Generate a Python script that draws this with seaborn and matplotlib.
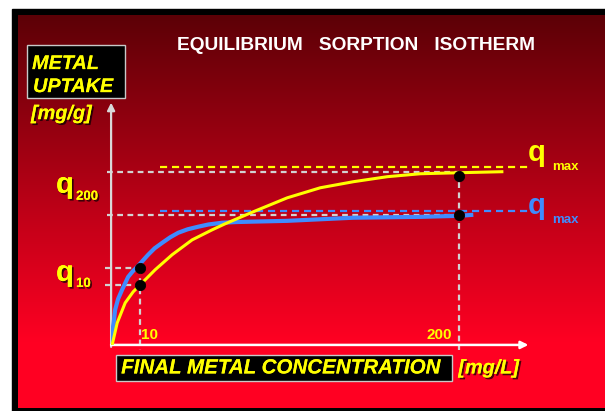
import numpy as np
import matplotlib
matplotlib.use("Agg")
import matplotlib.pyplot as plt
import matplotlib.patheffects as pe
from matplotlib.patches import Rectangle
import seaborn as sns

# ---------------- data (schematic units) ----------------
blue_x = [0.0, 0.6, 1.5, 2.3, 4.0, 6.3, 9.8, 12.5, 15.5, 18.5, 21.3, 25.0, 29.4, 34.0,
          38.6, 44.0, 50.1, 56.0, 63.9, 72.0, 80.0, 101.3, 139.3, 177.8, 200.3, 208.3]
blue_y = [0.0, 7.0, 13.0, 20.2, 26.5, 31.8, 39.3, 42.6, 45.6, 49.0, 52.1, 55.8, 59.0, 62.2,
          64.8, 66.8, 68.3, 69.6, 70.6, 71.0, 71.2, 71.7, 73.5, 74.0, 74.6, 75.2]
yellow_x = [0.6, 3.5, 8.1, 12.7, 16.7, 25.3, 35.1, 46.6, 58.1, 65.6, 81.7, 101.3,
            120.3, 139.3, 158.8, 177.8, 200.3, 225.6]
yellow_y = [0.0, 12.7, 24.3, 30.7, 34.7, 43.4, 52.1, 60.7, 66.5, 70.0, 76.9, 85.0,
            90.8, 94.3, 97.2, 98.9, 99.5, 100.1]

# marked points (concentration position, uptake)
mark_x = [16.7, 16.7, 200.3, 200.3]
mark_y = [44.5, 34.7, 97.8, 75.2]
mark_labels = ["10", "200"]          # concentration labels at the two marks
q_labels = ["200", "10"]             # subscripts on the y side
qmax_yellow = 103.0
qmax_blue = 77.5
q200_level = 100.1
q200_blue_level = 75.2
q10_levels = [44.5, 34.7]

XMAX, YMAX = 240.0, 140.0

W, H = 605, 411
fig = plt.figure(figsize=((W + 0.5) / 100, (H + 0.5) / 100), dpi=100)
sns.set_style("white")
plt.rcParams['font.family'] = ['Liberation Sans', 'DejaVu Sans']

# ---------------- background (slide) ----------------
bg = fig.add_axes([0, 0, 1, 1], zorder=0)
bg.set_xlim(0, W)
bg.set_ylim(H, 0)
bg.axis("off")
bg.add_patch(Rectangle((0, 0), W + 5, H + 5, color="white", zorder=0))
bg.add_patch(Rectangle((12, 9), W + 5, H + 5, color="black", zorder=0.5))
top = np.array([92, 0, 6]) / 255
bot = np.array([255, 0, 34]) / 255
y0, y1 = 15, 408
for yy in range(y0, y1):
    tt = min(1.0, (yy - y0) / (y1 - y0) * 1.2)
    bg.add_patch(Rectangle((18, yy), W + 5 - 18, 1.05, facecolor=top * (1 - tt) + bot * tt,
                           edgecolor="none", antialiased=False, zorder=1))

shadow = [pe.withSimplePatchShadow(offset=(1.3, -1.3), shadow_rgbFace="black", alpha=0.7),
          pe.Normal()]
YEL = "#ffff00"
BLUE = "#3f8cff"
GREY = "#d2d2d2"

# title
bg.text(356, 45, "EQUILIBRIUM   SORPTION   ISOTHERM", color="white", fontsize=13.8,
        fontweight="bold", ha="center", va="center", zorder=3)

# y label box
bg.add_patch(Rectangle((27, 45), 98, 53, facecolor="black", edgecolor="#c8c8c8", lw=1, zorder=2))
tkw = dict(color=YEL, fontweight="bold", fontstyle="italic", ha="left", va="center",
           path_effects=shadow, zorder=3)
bg.text(32, 64, "METAL", fontsize=14.3, **tkw)
bg.text(33, 87, "UPTAKE", fontsize=14.3, **tkw)
bg.text(31, 114, "[mg/g]", fontsize=14.3, **tkw)

# x label box
bg.add_patch(Rectangle((116, 355), 336, 26, facecolor="black", edgecolor="#c8c8c8", lw=1, zorder=2))
bg.text(121, 368, "FINAL METAL CONCENTRATION", fontsize=14.8, **tkw)
bg.text(458, 368, "[mg/L]", fontsize=14.3, **tkw)

# q labels on the left
for (qx, qy, sx, sy, sub) in [(56, 185, 76, 197, q_labels[0]), (56, 273, 76, 284, q_labels[1])]:
    bg.text(qx, qy, "q", color=YEL, fontsize=21, fontweight="bold", ha="left", va="center",
            path_effects=shadow, zorder=3)
    bg.text(sx, sy, sub, color=YEL, fontsize=9.5, fontweight="bold", ha="left", va="center",
            path_effects=shadow, zorder=3)

# qmax labels on the right
for (qy, sy, col) in [(153, 167, YEL), (206, 220, BLUE)]:
    bg.text(527, qy, "q", color=col, fontsize=21, fontweight="bold", ha="left", va="center", zorder=3)
    bg.text(552, sy, "max", color=col, fontsize=9.5, fontweight="bold", ha="left", va="center", zorder=3)

# ---------------- plot axes ----------------
left, right, bottom_px, top_px = 111, 528, 345, 103
ax = fig.add_axes([left / W, (H - bottom_px) / H, (right - left) / W, (bottom_px - top_px) / H],
                  zorder=1)
ax.patch.set_visible(False)
ax.set_xlim(0, XMAX)
ax.set_ylim(0, YMAX)
ax.axis("off")

# axes with arrows
ax.annotate("", xy=(0, 1), xytext=(0, -0.008), xycoords="axes fraction",
            arrowprops=dict(arrowstyle="-|>", color="#d8d8d8", lw=1.6, mutation_scale=11,
                            shrinkA=0, shrinkB=0))
ax.annotate("", xy=(1, 0), xytext=(0, 0), xycoords="axes fraction",
            arrowprops=dict(arrowstyle="-|>", color="white", lw=1.8, mutation_scale=11,
                            shrinkA=0, shrinkB=0))

# dashed guide lines
gkw = dict(color=GREY, lw=1.6, dashes=(2.6, 2.0), clip_on=False, zorder=2)
ax.plot([-2.3, mark_x[2]], [q200_level] * 2, **gkw)
ax.plot([-2.3, mark_x[3]], [q200_blue_level] * 2, **gkw)
for lv in q10_levels:
    ax.plot([-3.5, mark_x[0]], [lv] * 2, **gkw)
ax.plot([mark_x[0]] * 2, [q10_levels[0], -2.9], **gkw)
ax.plot([mark_x[2]] * 2, [q200_level, -2.9], **gkw)
ax.plot([28.2, XMAX], [qmax_yellow] * 2, color=YEL, lw=1.6, dashes=(3.2, 2.2),
        clip_on=False, zorder=2)
ax.plot([28.2, XMAX], [qmax_blue] * 2, color=BLUE, lw=1.6, dashes=(3.2, 2.2),
        clip_on=False, zorder=2)

# curves
sns.lineplot(x=blue_x, y=blue_y, sort=False, color=BLUE, lw=3.0, ax=ax, zorder=3,
             solid_capstyle="butt", solid_joinstyle="round")
sns.lineplot(x=yellow_x, y=yellow_y, sort=False, color=YEL, lw=2.2, ax=ax, zorder=4,
             solid_capstyle="butt", solid_joinstyle="round")
sns.scatterplot(x=mark_x, y=mark_y, color="black", s=55, edgecolor="black", ax=ax, zorder=5,
                clip_on=False)
ax.set_xlim(0, XMAX)
ax.set_ylim(0, YMAX)
ax.axis("off")

# concentration labels
for xv, lab in zip([mark_x[0], mark_x[2]], mark_labels):
    ha = "left" if lab == mark_labels[0] else "right"
    ax.text(xv + (0.5 if ha == "left" else -4.0), 5.8, lab, color=YEL, fontsize=11,
            fontweight="bold", ha=ha, va="center")

fig.savefig("out.png", dpi=100)
